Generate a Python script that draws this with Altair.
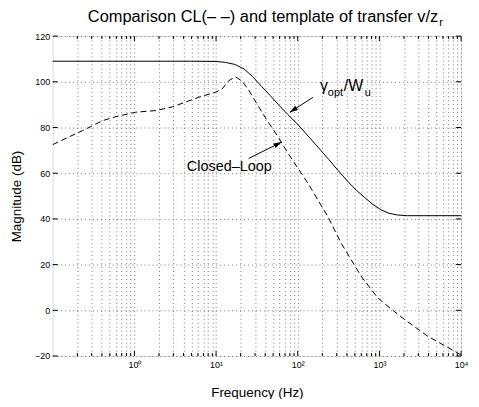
import altair as alt
import pandas as pd

# ---- data ----
tmpl_freq = [0.1, 1, 5, 10, 13, 17, 22, 28, 36, 46, 58, 75, 101, 140, 177, 240, 310, 420, 530, 655, 820, 1042, 1300, 1663, 2200, 10000]
tmpl_db = [109, 109, 109, 108.9, 108.5, 107.6, 105.6, 102.3, 98, 94, 90, 85.8, 81.2, 75.5, 71.4, 66, 61.3, 56, 52.3, 49.5, 46.5, 44, 42.5, 41.7, 41.4, 41.4]

cl_freq = [0.1, 0.15, 0.234, 0.3, 0.409, 0.6, 1.04, 1.83, 2.9, 4, 6.1, 9.8, 11.8, 14.2, 17.2, 20.7, 25, 30, 39.8, 57.8, 76.4, 100, 134, 180, 234, 340, 500, 596, 750, 951, 1400, 2010, 2800, 3850, 5500, 8130, 10000]
cl_db = [72.5, 75.5, 78.7, 80.6, 83, 84.8, 86.7, 87.4, 89, 90.8, 93.2, 95.4, 96.8, 100.4, 102.2, 100.4, 96.5, 91.7, 84.5, 75.8, 68.6, 62.3, 55.5, 47.8, 41, 29.4, 19.5, 15, 10.3, 5.5, 0.5, -3.9, -7.6, -11.2, -14.3, -17.7, -19.5]

x_major = [1, 10, 100, 1000, 10000]
x_minor = [m * 10 ** e for e in range(-1, 4) for m in range(2, 10)]
y_ticks = [-20, 0, 20, 40, 60, 80, 100, 120]

title_main = "Comparison CL(\u2013 \u2013) and template of transfer v/z"
title_sub = "r"
xlabel = "Frequency (Hz)"
ylabel = "Magnitude (dB)"
cl_label = "Closed\u2013Loop"

# annotation anchors (frequency, dB)
arrow_tmpl = {"f": 154, "db": 93.2, "f2": 80.2, "db2": 86.7}
arrow_cl = {"f": 25, "db": 66.4, "f2": 63.4, "db2": 73.6}
gamma_anchor = {"f": 187, "db": 96.1}
cl_anchor = {"f": 4.39, "db": 62.7}

W, H = 411, 322
FONT = "Liberation Sans"

xs = alt.Scale(type="log", domain=[0.1, 10000], nice=False)
ys = alt.Scale(domain=[-20, 120], nice=False, zero=False)

df_t = pd.DataFrame({"f": tmpl_freq, "db": tmpl_db})
df_c = pd.DataFrame({"f": cl_freq, "db": cl_db})

tick_vals = sorted(x_minor + x_major)
label_expr = ("datum.value == 1 ? '10\u2070' : datum.value == 10 ? '10\u00b9' : "
              "datum.value == 100 ? '10\u00b2' : datum.value == 1000 ? '10\u00b3' : "
              "datum.value == 10000 ? '10\u2074' : ''")

xaxis = alt.Axis(values=tick_vals, labelExpr=label_expr, grid=True, gridDash=[1, 3],
                 gridColor="#777", ticks=False, domain=False, labelFont=FONT,
                 labelFontSize=9, labelPadding=5, labelColor="black", title=xlabel,
                 titleFont=FONT, titleFontSize=13.5, titleFontWeight="normal",
                 titlePadding=16, titleColor="black", labelFlush=False)
yaxis = alt.Axis(values=y_ticks, grid=True, gridDash=[1, 3], gridColor="#777", ticks=False,
                 domain=False, labelFont=FONT, labelFontSize=9, labelPadding=3,
                 labelColor="black", title=ylabel, titleFont=FONT, titleFontSize=13.5,
                 titleFontWeight="normal", titlePadding=11, titleColor="black")

tmpl_line = alt.Chart(df_t).mark_line(color="black", strokeWidth=1).encode(
    x=alt.X("f:Q", scale=xs, axis=xaxis),
    y=alt.Y("db:Q", scale=ys, axis=yaxis),
)
cl_line = alt.Chart(df_c).mark_line(color="black", strokeWidth=1, strokeDash=[6, 3.5]).encode(
    x=alt.X("f:Q", scale=xs),
    y=alt.Y("db:Q", scale=ys),
)

# inward ticks (MATLAB style)
df_xmaj = pd.DataFrame({"f": x_major})
df_xmin = pd.DataFrame({"f": x_minor})
df_y = pd.DataFrame({"db": y_ticks})


def xticks(df, length):
    bot = alt.Chart(df).mark_rule(color="black", strokeWidth=1).encode(
        x=alt.X("f:Q", scale=xs), y=alt.value(H), y2=alt.value(H - length))
    top = alt.Chart(df).mark_rule(color="black", strokeWidth=1).encode(
        x=alt.X("f:Q", scale=xs), y=alt.value(0), y2=alt.value(length))
    return bot + top


yt_left = alt.Chart(df_y).mark_rule(color="black", strokeWidth=1).encode(
    y=alt.Y("db:Q", scale=ys), x=alt.value(0), x2=alt.value(5))
yt_right = alt.Chart(df_y).mark_rule(color="black", strokeWidth=1).encode(
    y=alt.Y("db:Q", scale=ys), x=alt.value(W), x2=alt.value(W - 5))


# annotation arrows
def arrow(a, ang):
    d = pd.DataFrame([a])
    shaft = alt.Chart(d).mark_rule(color="black", strokeWidth=1).encode(
        x=alt.X("f:Q", scale=xs), y=alt.Y("db:Q", scale=ys), x2="f2:Q", y2="db2:Q")
    head = alt.Chart(d).mark_point(shape="M0,0L-0.65,2L0.65,2Z", filled=True, size=64,
                                    color="black", opacity=1, angle=ang).encode(
        x=alt.X("f2:Q", scale=xs), y=alt.Y("db2:Q", scale=ys))
    return shaft + head


arr1 = arrow(arrow_tmpl, 237)
arr2 = arrow(arrow_cl, 63)

# gamma_opt / W_u label
dg = pd.DataFrame([gamma_anchor])


def piece(txt, size, dx, dy):
    return alt.Chart(dg).mark_text(text=txt, font=FONT, fontSize=size, align="left",
                                   baseline="alphabetic", dx=dx, dy=dy, color="black").encode(
        x=alt.X("f:Q", scale=xs), y=alt.Y("db:Q", scale=ys))


gamma_lbl = (piece("\u03b3", 16, 0, 0) + piece("opt", 11, 8, 5) +
             piece("/W", 16, 24, 0) + piece("u", 11, 45, 5))

dcl = pd.DataFrame([cl_anchor])
cl_lbl = alt.Chart(dcl).mark_text(text=cl_label, font=FONT, fontSize=14.5, align="left",
                                  baseline="middle", color="black").encode(
    x=alt.X("f:Q", scale=xs), y=alt.Y("db:Q", scale=ys))

# title with subscript
dtt = pd.DataFrame({"t": [title_main]})
title1 = alt.Chart(dtt).mark_text(font=FONT, fontSize=16.5, align="right",
                                  baseline="alphabetic", color="black").encode(
    text="t:N", x=alt.value(388), y=alt.value(-14))
dts = pd.DataFrame({"t": [title_sub]})
title2 = alt.Chart(dts).mark_text(font=FONT, fontSize=11, align="left",
                                  baseline="alphabetic", color="black").encode(
    text="t:N", x=alt.value(389), y=alt.value(-10))

chart = alt.layer(
    tmpl_line, cl_line,
    xticks(df_xmaj, 5), xticks(df_xmin, 3), yt_left, yt_right,
    arr1, arr2, gamma_lbl, cl_lbl, title1, title2,
).properties(
    width=W, height=H,
    autosize=alt.AutoSizeParams(type="none"),
    padding={"left": 45, "top": 27, "right": 10, "bottom": 42},
).configure_view(stroke="black", strokeWidth=1).configure(background="white")

chart.save("out.html", embed_options={"renderer": "svg", "actions": False})
